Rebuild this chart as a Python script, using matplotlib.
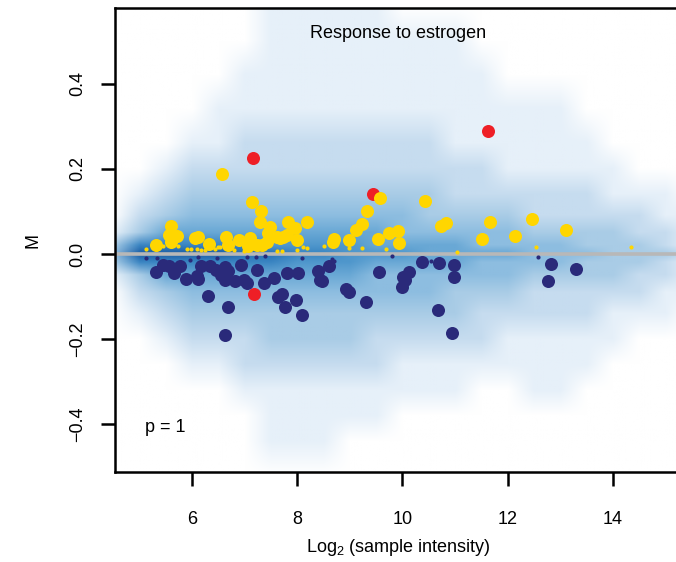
import numpy as np
import matplotlib.pyplot as plt
from matplotlib.colors import LinearSegmentedColormap
from matplotlib.image import NonUniformImage

plt.rcParams['font.family'] = 'Liberation Sans'
plt.rcParams['mathtext.default'] = 'regular'

# density background (smoothScatter look), intensity 0-9
dens_x = [4.5, 5.0, 5.5, 6.0, 6.5, 7.0, 7.5, 8.0, 8.5, 9.0, 9.5, 10.0,
          10.5, 11.0, 11.5, 12.0, 12.5, 13.0, 13.5, 14.0, 14.5, 15.0, 15.5, 16.0]
dens_y = [0.58, 0.50, 0.42, 0.34, 0.26, 0.20, 0.14, 0.09, 0.05, 0.02, 0.0,
          -0.02, -0.05, -0.09, -0.14, -0.20, -0.26, -0.32, -0.38, -0.44, -0.52]
dens_rows = [
    "0000 0011 1110 0000 0000 0000",
    "0000 0011 1111 1100 0000 0000",
    "0000 0111 1111 1110 0000 0000",
    "0000 1111 1111 1111 1100 0000",
    "0001 1222 2222 2111 1110 0000",
    "0012 2222 2222 2221 1111 0000",
    "0123 3333 3333 3222 2221 1100",
    "0234 4444 4444 3333 2222 2110",
    "1355 5555 5554 4444 3333 2210",
    "3777 7766 6655 5544 4433 3210",
    "4999 9887 7666 5555 4443 3321",
    "3777 7776 6655 5544 4433 3210",
    "1355 5555 5544 4444 3333 2210",
    "0234 4444 4444 4333 2222 2110",
    "0123 3333 3333 3322 2221 1100",
    "0012 2233 3322 2221 1111 0000",
    "0001 1222 2221 1111 1110 0000",
    "0000 0111 1111 1100 1100 0000",
    "0000 0011 1110 0000 0000 0000",
    "0000 0011 1000 0000 0000 0000",
    "0000 0000 0000 0000 0000 0000",
]

red_x = [7.16, 9.44, 11.63, 7.18]
red_y = [0.225, 0.142, 0.288, -0.094]

yel_x = [6.57, 7.15, 7.32, 7.29, 7.48, 7.83, 8.19, 7.96, 5.61, 5.71, 5.56, 5.60,
         6.11, 6.06, 6.33, 6.65, 6.68, 5.32, 6.90, 7.10, 7.24, 7.43, 7.45, 7.61,
         7.74, 7.80, 7.99, 7.33, 8.70, 8.68, 8.99, 9.12, 9.23, 9.32, 9.58, 9.54,
         9.75, 9.92, 9.94, 10.44, 10.73, 10.83, 11.67, 12.47, 13.12, 11.51, 12.15,
         7.67, 7.07]
yel_y = [0.188, 0.121, 0.101, 0.074, 0.064, 0.076, 0.075, 0.060, 0.065, 0.042, 0.045, 0.029,
         0.040, 0.037, 0.023, 0.040, 0.021, 0.021, 0.034, 0.037, 0.020, 0.029, 0.049, 0.039,
         0.039, 0.045, 0.033, 0.021, 0.036, 0.028, 0.033, 0.056, 0.070, 0.102, 0.131, 0.036,
         0.050, 0.054, 0.026, 0.125, 0.066, 0.073, 0.076, 0.083, 0.056, 0.036, 0.042,
         0.037, 0.018]

yel_small_x = [5.12, 5.45, 5.74, 5.90, 5.99, 6.09, 6.17, 6.25, 6.44, 6.50, 6.53, 6.79,
               6.99, 7.62, 7.71, 7.99, 8.11, 8.18, 8.51, 8.99, 9.24, 9.69, 11.03, 12.54, 14.34]
yel_small_y = [0.012, 0.019, 0.019, 0.011, 0.011, 0.011, 0.009, 0.009, 0.012, 0.016, 0.017, 0.009,
               0.008, 0.008, 0.007, 0.009, 0.016, 0.014, 0.019, 0.014, 0.015, 0.012, 0.005, 0.016, 0.016]

navy_x = [5.31, 5.45, 5.57, 5.66, 5.77, 5.88, 6.09, 6.11, 6.17, 6.35, 6.46, 6.55,
          6.62, 6.68, 6.62, 6.81, 6.93, 6.98, 7.05, 7.23, 7.37, 7.56, 7.81, 8.01,
          8.39, 8.43, 8.47, 8.61, 8.92, 8.99, 9.30, 9.56, 9.99, 10.01, 10.13, 10.05,
          10.37, 10.70, 10.99, 10.98, 10.68, 10.94, 12.82, 12.77, 13.30, 6.31, 6.68,
          6.62, 7.64, 7.71, 7.77, 7.98, 8.10]
navy_y = [-0.042, -0.025, -0.027, -0.045, -0.028, -0.059, -0.052, -0.059, -0.028, -0.027, -0.038, -0.049,
          -0.030, -0.039, -0.061, -0.063, -0.025, -0.061, -0.067, -0.038, -0.069, -0.056, -0.044, -0.045,
          -0.039, -0.060, -0.063, -0.027, -0.081, -0.088, -0.112, -0.042, -0.077, -0.053, -0.042, -0.061,
          -0.019, -0.022, -0.025, -0.055, -0.131, -0.186, -0.023, -0.063, -0.036, -0.099, -0.124,
          -0.191, -0.102, -0.095, -0.125, -0.108, -0.142]

navy_small_x = [5.12, 5.33, 5.96, 6.12, 6.47, 7.05, 7.21, 7.39, 8.10, 8.67, 8.70, 9.80, 10.55, 12.58]
navy_small_y = [-0.009, -0.009, -0.014, -0.008, -0.009, -0.006, -0.008, -0.005, -0.009, -0.011,
                -0.016, -0.005, -0.016, -0.006]

# R style blues ramp
blues = LinearSegmentedColormap.from_list(
    "blues", ["#ffffff", "#e6f0f9", "#c6dcef", "#a9cce6", "#8dbde0",
              "#6aa9d6", "#4f97cc", "#3b86c3", "#2a72b5", "#1c5da4"])

Z = np.array([[int(c) for c in r.replace(" ", "")] for r in dens_rows], dtype=float)

fig = plt.figure(figsize=(6.76, 5.62), dpi=100)
ax = fig.add_axes([115/676, 90/562, 605/676, 464/562])

# rows are listed top to bottom, the image wants increasing y
im = NonUniformImage(ax, interpolation='bilinear', cmap=blues,
                     extent=(dens_x[0], dens_x[-1], dens_y[-1], dens_y[0]), zorder=0)
im.set_data(np.array(dens_x), np.array(dens_y[::-1]), Z[::-1])
im.set_clim(0, 9)
ax.add_image(im)
ax.axhline(0, color="#b8b8b8", lw=2.6, zorder=1)

ax.scatter(red_x, red_y, s=88, color="#ee1f26", lw=0, zorder=2)
ax.scatter(yel_small_x, yel_small_y, s=9, color="#ffd600", lw=0, zorder=3)
ax.scatter(navy_small_x, navy_small_y, s=9, color="#2a2a7a", lw=0, zorder=3)
ax.scatter(yel_x, yel_y, s=88, color="#ffd600", lw=0, zorder=3)
ax.scatter(navy_x, navy_y, s=88, color="#2a2a7a", lw=0, zorder=3)

ax.set_xlim(4.536, 16.04)
ax.set_ylim(-0.5117, 0.5775)

for s in ax.spines.values():
    s.set_linewidth(1.8)
ax.spines['right'].set_visible(False)

ax.set_xticks([6, 8, 10, 12, 14])
ax.set_yticks([-0.4, -0.2, 0.0, 0.2, 0.4])
ax.set_yticklabels(["\u22120.4", "\u22120.2", "0.0", "0.2", "0.4"])
ax.tick_params(axis='both', length=10, width=1.8, labelsize=13)
ax.tick_params(axis='x', pad=18)
ax.tick_params(axis='y', pad=11)
for lbl in ax.get_yticklabels():
    lbl.set_rotation(90)
    lbl.set_va('center')

fig.text(398/676, 1 - 33/562, "Response to estrogen", ha='center', va='center', fontsize=13)
fig.text(145/676, 1 - 428/562, "p = 1", ha='left', va='center', fontsize=13)
fig.text(398/676, 1 - 548/562, "Log$_2$ (sample intensity)", ha='center', va='center', fontsize=13)
fig.text(33/676, 1 - 240/562, "M", ha='center', va='center', rotation=90, fontsize=13)

fig.savefig("out.png", dpi=100)
